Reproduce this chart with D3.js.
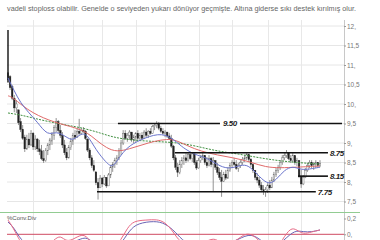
<!DOCTYPE html>
<html>
<head>
<meta charset="utf-8">
<script src="https://cdn.jsdelivr.net/npm/d3@7"></script>
<style>
  body { margin: 0; background: #fff; }
  svg { display: block; }
  text { font-family: "Liberation Sans", Arial, sans-serif; }
</style>
</head>
<body>
<div id="chart"></div>
<script>

// daily candles: [open, high, low, close]
const candles = [
  [10.8,11.9,10.55,10.62],[10.7,10.74,10.36,10.42],[10.45,10.49,10.1,10.15],[10.15,10.23,9.79,9.9],
  [9.9,10.1,9.77,10.0],[9.85,9.85,9.46,9.52],[9.55,9.64,9.28,9.35],[9.35,9.46,9.08,9.12],
  [9.15,9.21,8.77,8.85],[8.85,9.21,8.82,9.1],[9.1,9.26,8.87,8.95],[8.95,9.33,8.92,9.25],
  [9.25,9.28,8.82,8.9],[8.9,9.2,8.82,9.1],[9.1,9.13,8.77,8.85],[8.85,9.08,8.69,8.78],
  [8.8,8.95,8.56,8.6],[8.6,8.82,8.49,8.55],[8.55,8.87,8.52,8.8],[8.8,9.0,8.69,8.95],
  [8.95,9.13,8.82,9.08],[9.05,9.28,8.95,9.22],[9.2,9.46,9.08,9.4],[9.4,9.64,9.28,9.55],
  [9.55,9.59,9.26,9.32],[9.32,9.46,9.13,9.2],[9.2,9.28,8.87,8.95],[8.95,9.08,8.69,8.75],
  [8.75,8.87,8.56,8.62],[8.62,8.95,8.6,8.88],[8.88,9.13,8.82,9.05],[9.05,9.26,8.95,9.2],
  [9.2,9.33,9.08,9.15],[9.15,9.38,9.13,9.3],[9.3,9.62,9.21,9.25],[9.25,9.38,9.21,9.33],
  [9.33,9.41,9.26,9.3],[9.3,9.33,9.08,9.12],[9.1,9.12,8.77,8.82],[8.82,8.87,8.56,8.62],
  [8.62,8.69,8.36,8.42],[8.42,8.56,8.26,8.3],[8.26,8.26,7.92,7.98],[7.98,8.1,7.55,7.85],
  [7.85,8.18,7.85,8.1],[8.1,8.13,7.87,7.95],[7.95,8.18,7.92,8.12],[8.12,8.12,7.85,7.9],
  [7.9,8.23,7.9,8.18],[8.18,8.44,8.1,8.38],[8.38,8.51,8.26,8.45],[8.45,8.62,8.36,8.55],
  [8.55,8.69,8.44,8.62],[8.62,8.87,8.56,8.8],[8.8,9.08,8.69,9.0],[9.0,9.33,8.95,9.25],
  [9.25,9.33,9.08,9.12],[9.12,9.26,9.03,9.2],[9.2,9.33,9.08,9.28],[9.28,9.28,9.03,9.08],
  [9.08,9.21,9.0,9.15],[9.15,9.28,9.03,9.25],[9.25,9.33,9.08,9.12],[9.12,9.26,9.05,9.2],
  [9.2,9.28,9.08,9.12],[9.12,9.33,9.1,9.28],[9.28,9.38,9.15,9.2],[9.2,9.33,9.13,9.3],
  [9.3,9.38,9.21,9.25],[9.25,9.46,9.24,9.42],[9.42,9.51,9.33,9.45],[9.45,9.56,9.38,9.5],
  [9.5,9.54,9.33,9.38],[9.38,9.44,9.26,9.3],[9.3,9.38,9.21,9.25],[9.25,9.33,9.15,9.28],
  [9.28,9.28,9.13,9.18],[9.18,9.26,9.08,9.12],[9.12,9.21,8.87,8.92],[8.92,8.95,8.56,8.62],
  [8.62,8.69,8.31,8.38],[8.38,8.49,8.13,8.25],[8.25,8.56,8.2,8.45],[8.45,8.64,8.36,8.55],
  [8.55,8.69,8.44,8.62],[8.62,8.74,8.49,8.55],[8.55,8.77,8.52,8.7],[8.7,8.74,8.56,8.6],
  [8.6,8.77,8.51,8.72],[8.72,8.72,8.44,8.5],[8.5,8.56,8.31,8.36],[8.36,8.62,8.34,8.55],
  [8.55,8.69,8.49,8.64],[8.64,8.74,8.56,8.68],[8.68,8.69,8.44,8.5],[8.5,8.64,8.36,8.42],
  [8.42,8.69,8.4,8.6],[8.6,8.64,8.38,8.45],[8.45,8.64,7.77,8.55],[8.55,8.56,8.31,8.38],
  [8.38,8.49,8.18,8.25],[8.25,8.36,8.05,8.12],[8.12,8.31,7.62,8.02],[8.02,8.26,8.0,8.2],
  [8.2,8.31,8.05,8.1],[8.1,8.38,8.08,8.3],[8.3,8.49,8.26,8.42],[8.42,8.56,8.36,8.5],
  [8.5,8.62,8.41,8.45],[8.45,8.56,8.31,8.35],[8.35,8.49,8.26,8.42],[8.42,8.56,8.36,8.5],
  [8.5,8.64,8.44,8.58],[8.58,8.69,8.51,8.62],[8.62,8.74,8.56,8.7],[8.7,8.72,8.51,8.58],
  [8.58,8.62,8.38,8.45],[8.45,8.49,8.23,8.3],[8.3,8.31,8.05,8.12],[8.12,8.23,7.97,8.05],
  [8.05,8.13,7.85,7.92],[7.92,8.0,7.74,7.8],[7.8,7.92,7.67,7.75],[7.75,7.87,7.62,7.8],
  [7.8,7.97,7.72,7.92],[7.92,8.05,7.79,7.85],[7.85,8.13,7.85,8.05],[8.05,8.26,8.0,8.2],
  [8.2,8.36,8.13,8.3],[8.3,8.44,8.23,8.38],[8.38,8.56,8.31,8.5],[8.5,8.69,8.44,8.62],
  [8.62,8.74,8.56,8.68],[8.68,8.82,8.62,8.75],[8.75,8.76,8.56,8.6],[8.6,8.69,8.49,8.55],
  [8.55,8.74,8.51,8.68],[8.68,8.68,8.44,8.5],[8.5,8.62,8.41,8.55],[8.55,8.56,8.1,8.15],
  [8.15,8.31,7.85,7.95],[7.95,8.18,7.92,8.12],[8.12,8.36,8.1,8.3],[8.3,8.49,8.26,8.42],
  [8.42,8.56,8.36,8.5],[8.5,8.56,8.36,8.42],[8.42,8.51,8.31,8.45],[8.45,8.56,8.36,8.5],
  [8.5,8.51,8.36,8.42],[8.42,8.56,8.38,8.48]
];

// moving averages: [day, value]
const maFast = [[0,10.67],[3,10.33],[6,10.03],[10,9.77],[14,9.54],[19,9.18],[23,9.31],[28,9.15],
  [31,9.05],[35,9.26],[38,9.21],[42,8.82],[47,8.49],[50,8.36],[53,8.62],[57,8.9],[63,9.08],
  [72,9.26],[78,9.15],[83,8.9],[87,8.77],[90,8.69],[95,8.62],[100,8.44],[105,8.33],[110,8.41],
  [114,8.46],[118,8.26],[122,8.03],[125,7.95],[128,8.05],[132,8.31],[136,8.41],[140,8.31],
  [144,8.33],[149,8.38]];
const maMid = [[0,10.21],[2,10.18],[7,9.95],[12,9.77],[17,9.64],[22,9.54],[27,9.46],[33,9.38],
  [38,9.26],[42,9.08],[47,8.87],[52,8.77],[58,8.85],[64,8.95],[70,9.05],[76,9.1],[80,9.08],
  [86,8.92],[92,8.79],[100,8.69],[108,8.62],[116,8.51],[123,8.38],[130,8.36],[138,8.38],[149,8.41]];
const maSlow = [[0,9.77],[6,9.72],[12,9.64],[20,9.54],[28,9.46],[36,9.38],[44,9.26],[50,9.15],
  [58,9.08],[66,9.05],[74,9.03],[82,9.0],[90,8.92],[100,8.79],[110,8.72],[120,8.62],[130,8.54],
  [140,8.49],[149,8.46]];

// %Conv.Div panel: [day, value]
const oscFast = [[0,0.18],[2,0.105],[5,-0.05],[7,-0.135],[12,-0.22],[18,-0.17],[22,-0.07],[25,-0.01],
  [28,-0.1],[32,-0.05],[36,0.01],[39,-0.07],[44,-0.26],[50,-0.2],[54,-0.07],[57,0.08],[60,0.17],
  [66,0.18],[71,0.19],[75,0.155],[79,0.03],[82,-0.1],[88,-0.17],[96,-0.07],[99,-0.05],[103,-0.135],
  [108,-0.11],[114,0.04],[119,-0.05],[123,-0.17],[128,-0.2],[131,-0.07],[135,0.09],[138,0.055],
  [141,0.0],[145,0.03],[149,0.055]];
const oscSlow = [[0,0.155],[3,0.08],[6,-0.07],[12,-0.2],[20,-0.2],[26,-0.12],[32,-0.1],[37,-0.02],
  [41,-0.11],[47,-0.25],[53,-0.17],[58,0.055],[62,0.14],[70,0.17],[75,0.14],[80,0.03],[84,-0.1],
  [92,-0.2],[100,-0.135],[108,-0.1],[115,0.015],[120,-0.05],[126,-0.2],[132,-0.07],[137,0.055],
  [141,0.03],[145,0.03],[149,0.055]];

// support / resistance levels drawn by hand: value, start day, end day
const levels = [
  {v: 9.50, from: 52.5, to: 159.5, label: "9.50"},
  {v: 8.75, from: 79.7, to: 152.8, label: "8.75"},
  {v: 8.15, from: 138.5, to: 152.8, label: "8.15"},
  {v: 7.75, from: 42.5, to: 147, label: "7.75"}
];

const yTicks = [12, 11.5, 11, 10.5, 10, 9.5, 9, 8.5, 8, 7.5];
const yTickLabels = ["12,", "11,5", "11,", "10,5", "10,", "9,5", "9,", "8,5", "8,", "7,5"];
const oscTicks = [0.2, 0];
const oscTickLabels = ["0,2", "0,"];
const gridDays = [12, 31, 45, 61, 75, 91, 107, 124, 140];

const note = "vadeli stoploss olabilir. Genelde o seviyeden yukarı dönüyor geçmişte. Altına giderse sıkı destek kırılmış olur.";

const W = 380, H = 240;
const left = 7, right = 344, priceTop = 20, priceBottom = 212;

const svg = d3.select("#chart").append("svg")
  .attr("width", W)
  .attr("height", H);

const x = d3.scaleLinear().domain([0, candles.length - 1]).range([8, 320]);
const y = d3.scaleLinear().domain([7.5, 12]).range([201.5, 26]);
const yo = d3.scaleLinear().domain([0, 0.2]).range([234.3, 218.5]);

svg.append("text")
  .attr("x", 7)
  .attr("y", 11)
  .attr("font-size", 7.5)
  .attr("fill", "#666")
  .attr("textLength", 349)
  .attr("lengthAdjust", "spacingAndGlyphs")
  .text(note);

const defs = svg.append("defs");
defs.append("clipPath").attr("id", "clipPrice")
  .append("rect").attr("x", left).attr("y", priceTop).attr("width", right - left).attr("height", priceBottom - priceTop);
defs.append("clipPath").attr("id", "clipOsc")
  .append("rect").attr("x", left).attr("y", priceBottom + 1).attr("width", right - left).attr("height", H - priceBottom);

// grid
svg.append("g").selectAll("line")
  .data(yTicks)
  .enter().append("line")
  .attr("x1", left).attr("x2", right)
  .attr("y1", d => y(d)).attr("y2", d => y(d))
  .attr("stroke", "#e6e6e6");

svg.append("g").selectAll("line")
  .data(gridDays)
  .enter().append("line")
  .attr("x1", d => Math.round(x(d)) + 0.5).attr("x2", d => Math.round(x(d)) + 0.5)
  .attr("y1", priceTop).attr("y2", H)
  .attr("stroke", "#e8e8e8");

svg.append("line")
  .attr("x1", right + 0.5).attr("x2", right + 0.5)
  .attr("y1", priceTop).attr("y2", H)
  .attr("stroke", "#c8c8c8");

// right axes
function styleAxis(g) {
  g.select(".domain").remove();
  g.selectAll(".tick line").attr("stroke", "#999");
  g.selectAll(".tick text").attr("fill", "#777").attr("font-size", 6.5)
    .attr("font-family", "Liberation Sans, Arial, sans-serif");
}

svg.append("g")
  .attr("transform", "translate(" + right + ",0)")
  .call(d3.axisRight(y).tickValues(yTicks).tickSize(2).tickPadding(1)
    .tickFormat((d, i) => yTickLabels[i]))
  .call(styleAxis);

svg.append("g")
  .attr("transform", "translate(" + right + ",0)")
  .call(d3.axisRight(yo).tickValues(oscTicks).tickSize(2).tickPadding(1)
    .tickFormat((d, i) => oscTickLabels[i]))
  .call(styleAxis);

// panel separator
svg.append("line")
  .attr("x1", 0).attr("x2", 360)
  .attr("y1", priceBottom + 0.5).attr("y2", priceBottom + 0.5)
  .attr("stroke", "#92cc92");

// candles
const price = svg.append("g").attr("clip-path", "url(#clipPrice)");

price.selectAll(".wick")
  .data(candles)
  .enter().append("line")
  .attr("class", "wick")
  .attr("x1", (d, i) => x(i)).attr("x2", (d, i) => x(i))
  .attr("y1", d => y(d[1])).attr("y2", d => y(d[2]))
  .attr("stroke", (d, i) => i === 0 ? "#111" : "#777")
  .attr("stroke-width", (d, i) => i === 0 ? 1.4 : 0.8);

price.selectAll(".body")
  .data(candles)
  .enter().append("rect")
  .attr("class", "body")
  .attr("x", (d, i) => x(i) - 0.8)
  .attr("width", 1.6)
  .attr("y", d => y(Math.max(d[0], d[3])))
  .attr("height", d => Math.max(0.8, Math.abs(y(d[0]) - y(d[3]))))
  .attr("fill", d => d[3] >= d[0] ? "#f4f4f4" : "#222")
  .attr("stroke", d => d[3] >= d[0] ? "#666" : "#222")
  .attr("stroke-width", 0.4);

// moving averages
const maLine = d3.line()
  .x(d => x(d[0]))
  .y(d => y(d[1]))
  .curve(d3.curveBasis);

price.append("path").datum(maSlow)
  .attr("d", maLine).attr("fill", "none")
  .attr("stroke", "#3f8f3f").attr("stroke-width", 1).attr("stroke-dasharray", "2,1.2");
price.append("path").datum(maMid)
  .attr("d", maLine).attr("fill", "none")
  .attr("stroke", "#e06a6a").attr("stroke-width", 1);
price.append("path").datum(maFast)
  .attr("d", maLine).attr("fill", "none")
  .attr("stroke", "#6a74cc").attr("stroke-width", 1);

// levels
const lv = svg.append("g");
lv.selectAll("line")
  .data(levels)
  .enter().append("line")
  .attr("x1", d => x(d.from)).attr("x2", d => x(d.to))
  .attr("y1", d => y(d.v)).attr("y2", d => y(d.v))
  .attr("stroke", "#111").attr("stroke-width", 1.6);

levels.forEach(function (d) {
  const mid = d.v === 9.5;
  const tx = mid ? x((d.from + d.to) / 2) : x(d.to) + 2;
  if (mid) {
    lv.append("rect")
      .attr("x", tx - 10).attr("y", y(d.v) - 5)
      .attr("width", 20).attr("height", 10)
      .attr("fill", "#fff");
  }
  lv.append("text")
    .attr("x", tx)
    .attr("y", y(d.v) + 2.8)
    .attr("text-anchor", mid ? "middle" : "start")
    .attr("font-size", 8)
    .attr("font-weight", "bold")
    .attr("font-style", "italic")
    .attr("letter-spacing", -0.4)
    .attr("fill", "#222")
    .text(d.label);
});

// lower panel
const osc = svg.append("g").attr("clip-path", "url(#clipOsc)");

osc.append("line")
  .attr("x1", left).attr("x2", right)
  .attr("y1", yo(0)).attr("y2", yo(0))
  .attr("stroke", "#cf4a62").attr("stroke-width", 1);

const oscLine = d3.line()
  .x(d => x(d[0]))
  .y(d => yo(d[1]))
  .curve(d3.curveBasis);

osc.append("path").datum(oscSlow)
  .attr("d", oscLine).attr("fill", "none")
  .attr("stroke", "#6a64b4").attr("stroke-width", 1);
osc.append("path").datum(oscFast)
  .attr("d", oscLine).attr("fill", "none")
  .attr("stroke", "#e86a86").attr("stroke-width", 1);

svg.append("text")
  .attr("x", 7)
  .attr("y", 220)
  .attr("font-size", 6)
  .attr("fill", "#555")
  .text("%Conv.Div");

</script>
</body>
</html>
